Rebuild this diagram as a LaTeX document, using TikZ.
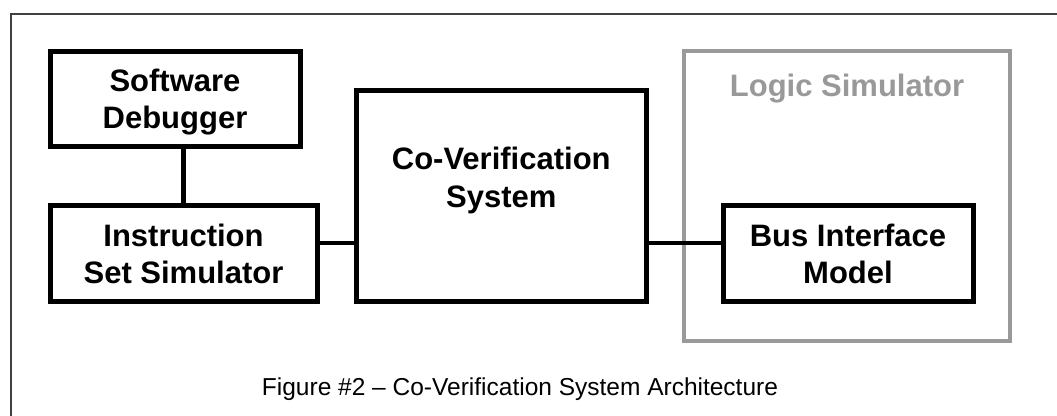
\documentclass[tikz,border=0pt]{standalone}
\usepackage{fontspec}
\setmainfont{Liberation Sans}
\begin{document}
\begin{tikzpicture}[x=1pt,y=1pt,
  block/.style={draw=black, line width=5pt, inner sep=0pt, align=center,
    font=\fontsize{31}{37}\selectfont\bfseries, text depth=0pt},
  group/.style={draw=black!40, line width=4pt, inner sep=0pt},
  wire/.style={draw=black, line width=4.5pt},
  caption/.style={font=\fontsize{24.5}{28}\selectfont, inner sep=0pt}]
  \useasboundingbox (0,0) rectangle (1057,415);
  % outer frame (left and top edges; the rest runs off the page)
  \draw[black!75, line width=2.5pt] (11,-10) coordinate (fbl) -- (11,401) coordinate (ftl) -- (1070,401) coordinate (ftr);
  % logic simulator enclosure
  \node[group, minimum width=326pt, minimum height=290pt] (ls) at (847,219) {};
  \node[anchor=base, inner sep=0pt, text=black!40,
    font=\fontsize{31}{37}\selectfont\bfseries] (lslabel) at (847,318) {Logic Simulator};
  % blocks
  \node[block, minimum width=250pt, minimum height=95.5pt] (sd) at (175,315.75) {Software\\Debugger};
  \node[block, minimum width=267pt, minimum height=96pt] (iss) at (183.5,161) {Instruction\\Set Simulator};
  \node[block, minimum width=290.5pt, minimum height=211pt] (cvs) at (501.25,218.5) {};
  \node[anchor=center, inner sep=0pt, align=center, text depth=0pt,
    font=\fontsize{31}{38}\selectfont\bfseries] (cvslabel) at (501.25,237.5) {Co-Verification\\System};
  \node[block, minimum width=250pt, minimum height=96pt] (bim) at (848,161) {Bus Interface\\Model};
  % connectors
  \draw[wire] (iss.north) -- (iss.north |- sd.south);
  \coordinate (bus) at ([yshift=11pt]iss.east);
  \draw[wire] (bus) -- (bus -| cvs.west);
  \draw[wire] (bus -| cvs.east) -- (bus -| bim.west);
  % caption
  \node[caption, anchor=base] (cap) at (520,20) {Figure \#2 -- Co-Verification System Architecture};
\end{tikzpicture}
\end{document}
